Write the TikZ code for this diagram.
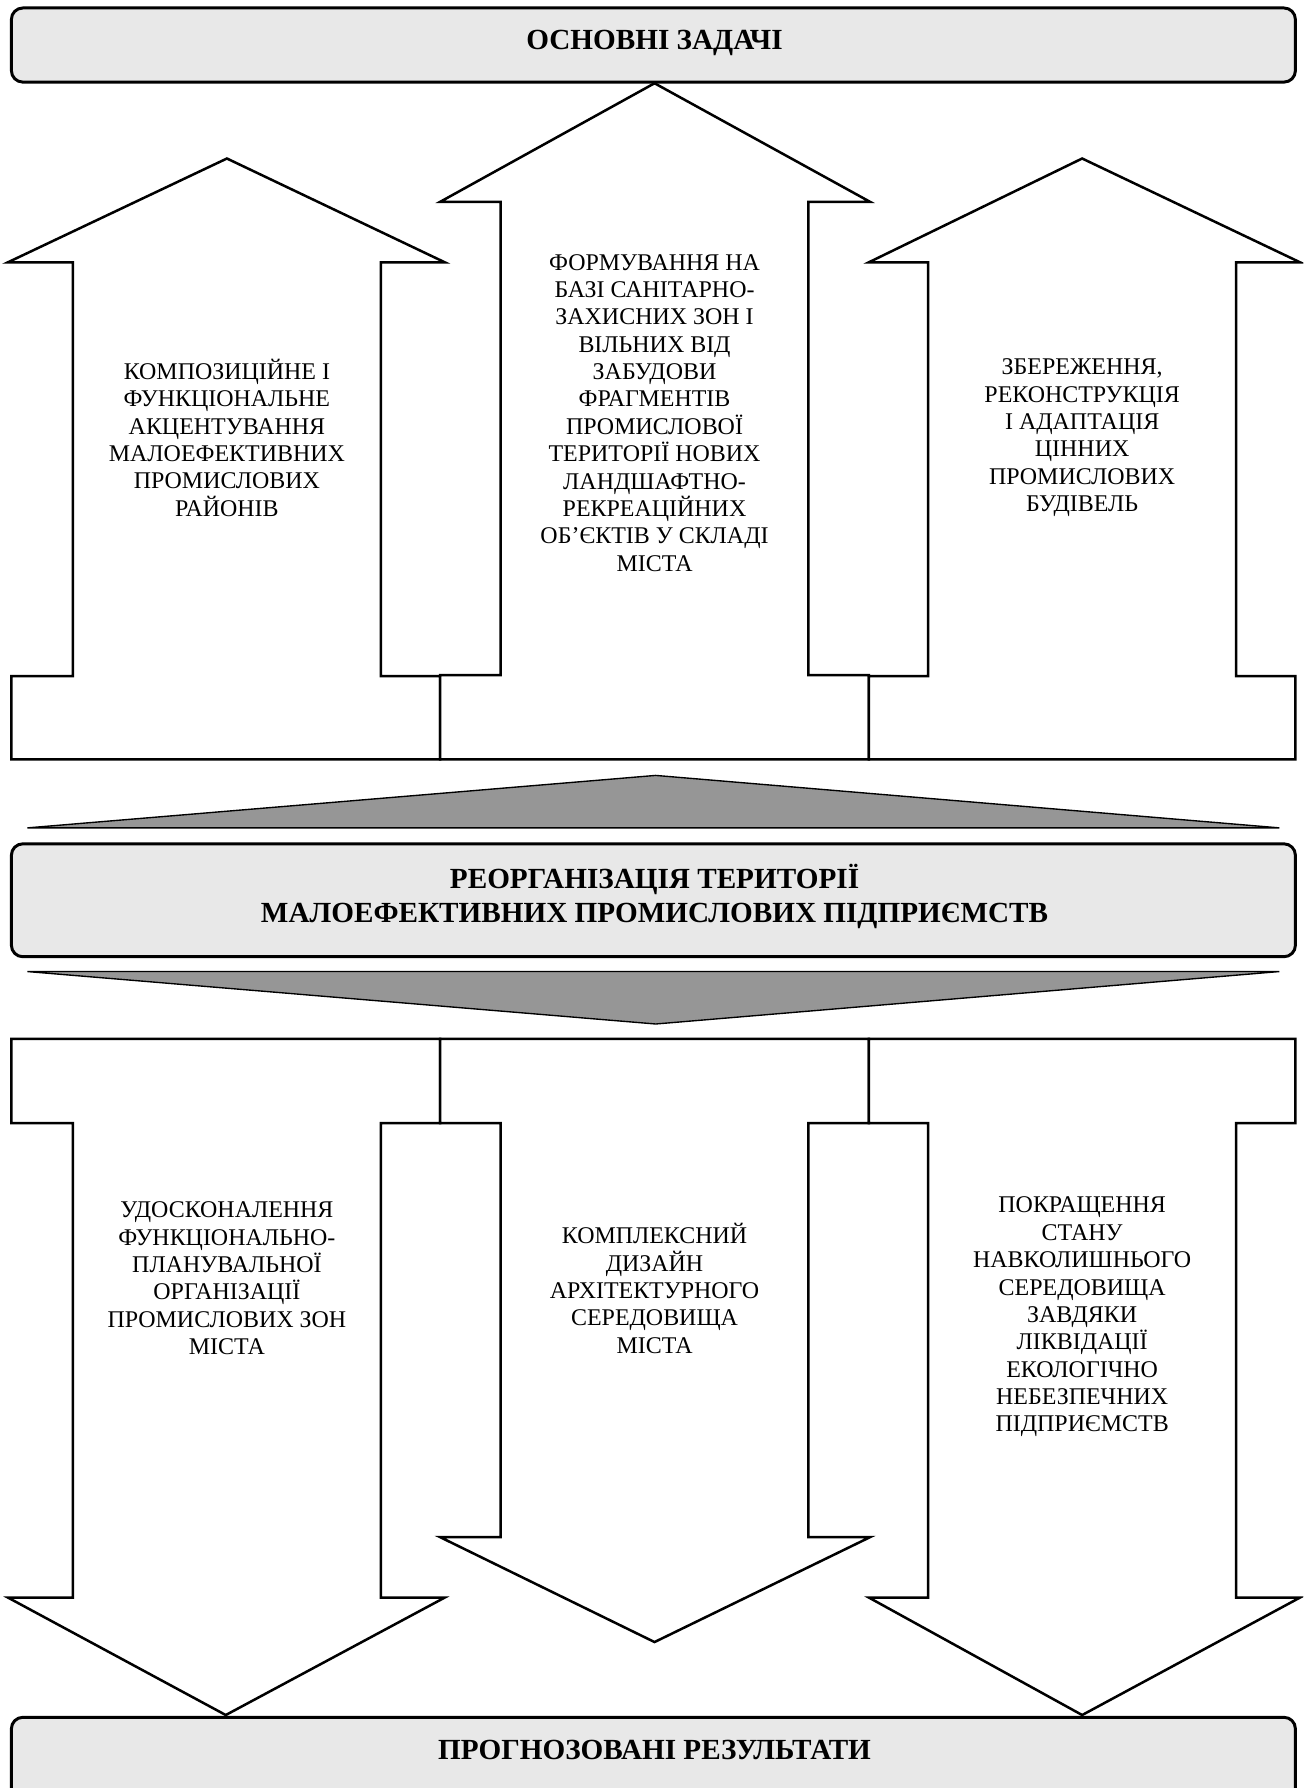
\documentclass[tikz,border=0pt]{standalone}
\usepackage{fontspec}
\setmainfont{Liberation Serif}
\definecolor{boxgray}{gray}{0.91}
\definecolor{wedgegray}{gray}{0.59}

\begin{document}
\begin{tikzpicture}[x=0.5pt,y=-0.5pt,
  titlebox/.style={draw, line width=1.3pt, fill=boxgray, rounded corners=5pt},
  arrowshape/.style={draw, line width=1.1pt, fill=white, line join=miter},
  wedge/.style={draw, line width=0.6pt, fill=wedgegray},
  titletext/.style={font=\fontsize{12.8}{15}\selectfont\bfseries, align=center},
  bodytext/.style={font=\fontsize{10.5}{12}\selectfont, align=center}]
\useasboundingbox (0,0) rectangle (1143,1568);
\clip (0,0) rectangle (1143,1568);

% upper arrows (tasks)
\draw[arrowshape] (199,139) -- (390,230) -- (334,230) -- (334,593) -- (386,593) -- (386,666) -- (10,666) -- (10,593) -- (64,593) -- (64,230) -- (7,230) -- cycle;
\draw[arrowshape] (574,73) -- (763,177) -- (709,177) -- (709,592) -- (762,592) -- (762,666) -- (386,666) -- (386,592) -- (439,592) -- (439,177) -- (386,177) -- cycle;
\draw[arrowshape] (949,139) -- (1140,230) -- (1084,230) -- (1084,593) -- (1136,593) -- (1136,666) -- (762,666) -- (762,593) -- (814,593) -- (814,230) -- (762,230) -- cycle;

% lower arrows (results)
\draw[arrowshape] (10,911) -- (386,911) -- (386,985) -- (334,985) -- (334,1401) -- (390,1401) -- (198,1504) -- (7,1401) -- (64,1401) -- (64,985) -- (10,985) -- cycle;
\draw[arrowshape] (386,911) -- (762,911) -- (762,985) -- (709,985) -- (709,1348) -- (763,1348) -- (574,1440) -- (386,1348) -- (439,1348) -- (439,985) -- (386,985) -- cycle;
\draw[arrowshape] (762,911) -- (1136,911) -- (1136,985) -- (1084,985) -- (1084,1401) -- (1140,1401) -- (949,1504) -- (762,1401) -- (814,1401) -- (814,985) -- (762,985) -- cycle;

% wedges
\draw[wedge] (24,726) -- (575,680) -- (1122,726) -- cycle;
\draw[wedge] (24,852) -- (1122,852) -- (575,898) -- cycle;

% boxes
\draw[titlebox] (10,7) rectangle (1136,72);
\draw[titlebox] (10,740) rectangle (1136,839);
\draw[titlebox] (10,1506) rectangle (1136,1620);

\node[titletext] (zadachi) at (574,38) {ОСНОВНІ ЗАДАЧІ};
\node[titletext] (reorg) at (574,786) {РЕОРГАНІЗАЦІЯ ТЕРИТОРІЇ\\МАЛОЕФЕКТИВНИХ ПРОМИСЛОВИХ ПІДПРИЄМСТВ};
\node[titletext] (rezult) at (574,1535) {ПРОГНОЗОВАНІ РЕЗУЛЬТАТИ};

\node[bodytext] (akcent) at (199,384) {КОМПОЗИЦІЙНЕ І\\ФУНКЦІОНАЛЬНЕ\\АКЦЕНТУВАННЯ\\МАЛОЕФЕКТИВНИХ\\ПРОМИСЛОВИХ\\РАЙОНІВ};
\node[bodytext] (formuv) at (574,362) {ФОРМУВАННЯ НА\\БАЗІ САНІТАРНО-\\ЗАХИСНИХ ЗОН І\\ВІЛЬНИХ ВІД\\ЗАБУДОВИ\\ФРАГМЕНТІВ\\ПРОМИСЛОВОЇ\\ТЕРИТОРІЇ НОВИХ\\ЛАНДШАФТНО-\\РЕКРЕАЦІЙНИХ\\ОБ’ЄКТІВ У СКЛАДІ\\МІСТА};
\node[bodytext] (zberezh) at (949,384) {ЗБЕРЕЖЕННЯ,\\РЕКОНСТРУКЦІЯ\\І АДАПТАЦІЯ\\ЦІННИХ\\ПРОМИСЛОВИХ\\БУДІВЕЛЬ};
\node[bodytext] (udoskon) at (199,1121) {УДОСКОНАЛЕННЯ\\ФУНКЦІОНАЛЬНО-\\ПЛАНУВАЛЬНОЇ\\ОРГАНІЗАЦІЇ\\ПРОМИСЛОВИХ ЗОН\\МІСТА};
\node[bodytext] (dyzain) at (574,1130) {КОМПЛЕКСНИЙ\\ДИЗАЙН\\АРХІТЕКТУРНОГО\\СЕРЕДОВИЩА\\МІСТА};
\node[bodytext] (pokrashch) at (949,1155) {ПОКРАЩЕННЯ\\СТАНУ\\НАВКОЛИШНЬОГО\\СЕРЕДОВИЩА\\ЗАВДЯКИ\\ЛІКВІДАЦІЇ\\ЕКОЛОГІЧНО\\НЕБЕЗПЕЧНИХ\\ПІДПРИЄМСТВ};
\end{tikzpicture}
\end{document}
